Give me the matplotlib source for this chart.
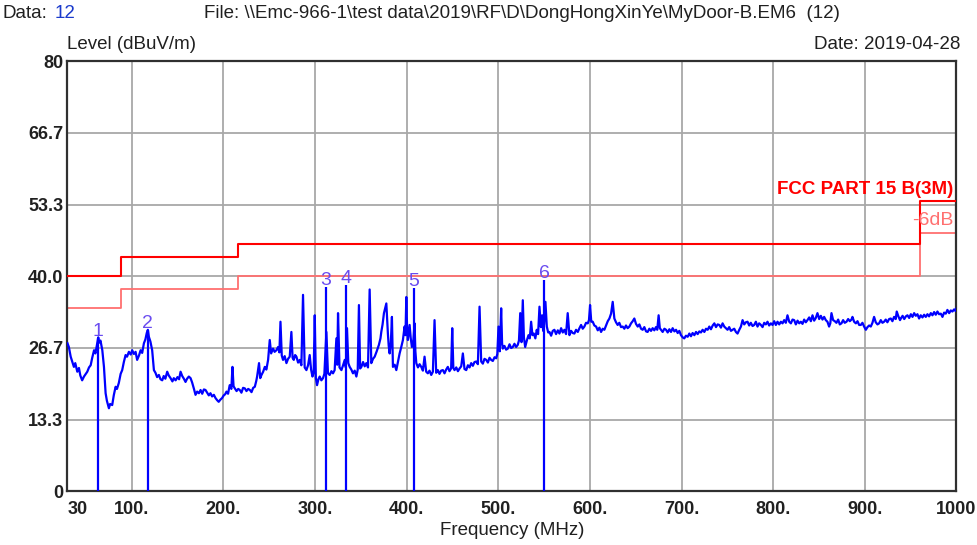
import matplotlib
matplotlib.use("Agg")
import matplotlib.pyplot as plt
import numpy as np

plt.rcParams['font.family'] = ['Liberation Sans', 'DejaVu Sans']

# limit line (FCC Part 15 B, 3 m) and its -6 dB margin
limit_freq = [30, 88, 216, 960, 1000]
limit_level = [40.0, 43.5, 46.0, 54.0, 54.0]
margin_db = 6.0

# peak markers
marker_freq = [63.6, 117.7, 311.7, 334.3, 408.0, 550.0]
marker_level = [28.5, 30.0, 38.0, 38.3, 37.8, 39.3]
marker_names = ['1', '2', '3', '4', '5', '6']

yticks = [0, 13.3, 26.7, 40.0, 53.3, 66.7, 80]
ytick_labels = ['0', '13.3', '26.7', '40.0', '53.3', '66.7', '80']
xticks = [30, 100, 200, 300, 400, 500, 600, 700, 800, 900, 1000]
xtick_labels = ['30', '100.', '200.', '300.', '400.', '500.', '600.', '700.', '800.', '900.', '1000']

trace = [
    (30, 27.5), (31.5, 26.8), (33.5, 25.0), (35, 24.2), (37, 23.1), (38.5, 23.8), (40.7, 22.2),
    (42.5, 22.9), (44, 21.5), (46, 20.6), (48, 21.3), (50, 21.8), (51.6, 22.2), (53.5, 23.0),
    (55.3, 23.4), (57, 24.8), (59, 26.2), (60.5, 25.6), (62.5, 27.5), (63.6, 28.6), (64.5, 27.6),
    (66, 28.0), (68, 26.2), (69.8, 23.1), (71.6, 18.2), (73, 16.8), (75.2, 15.4), (76.5, 16.2),
    (78.8, 16.0), (80.5, 17.8), (82.5, 19.4), (84, 19.0), (86, 20.1), (88, 21.8), (89.7, 22.5),
    (91.5, 24.0), (93.4, 25.3), (95, 25.0), (97, 25.9), (99, 25.4), (100.6, 26.2), (102.5, 25.5),
    (104.3, 25.9), (106, 24.4), (108, 25.2), (109.8, 26.2), (111.5, 25.7), (113.4, 27.5),
    (115, 28.2), (116.5, 29.4), (117.7, 30.0), (118.8, 28.7), (120.5, 27.8), (122.4, 26.2),
    (124.3, 22.5), (126, 22.0), (127.8, 21.2), (129.7, 21.6), (131.5, 20.8), (133.4, 20.6),
    (135, 21.4), (136.8, 20.9), (138.8, 22.2), (140.5, 21.5), (142.5, 21.0), (144.5, 20.4),
    (146, 21.0), (148, 20.6), (150, 21.2), (151.8, 20.8), (153.4, 22.2), (155.2, 21.4),
    (157, 20.9), (158.8, 20.3), (160.5, 20.9), (162.4, 21.3), (164.3, 21.0), (166, 20.2),
    (168, 19.0), (169.7, 17.9), (171.5, 18.5), (173.4, 18.2), (175.2, 18.8), (177, 18.1),
    (178.8, 18.9), (180.6, 18.8), (182.4, 18.3), (184.2, 17.8), (186, 18.2), (187.8, 17.6),
    (189.7, 17.9), (191.5, 17.3), (193.3, 16.9), (195, 16.6), (196.8, 17.0), (198.7, 17.3),
    (200.5, 17.8), (202, 18.0), (203.5, 18.5), (205.2, 18.1), (207, 19.7), (208.8, 19.0),
    (210, 23.1), (211.2, 19.5), (212.6, 19.1), (214.5, 18.6), (216.3, 19.0), (218, 18.8),
    (219.8, 18.3), (221.6, 19.2), (223.5, 19.1), (225.3, 18.6), (227.2, 19.0), (229, 18.8),
    (230.8, 18.4), (232.6, 19.2), (234.4, 19.4), (236, 20.5), (236.9, 21.3), (239, 23.8),
    (240.3, 21.0), (241.7, 21.6), (243.5, 22.2), (245.3, 23.1), (247, 22.6), (248.9, 24.4),
    (250.7, 28.1), (252.2, 25.6), (254.3, 26.5), (256, 25.9), (258, 26.2), (259.8, 26.8),
    (261.2, 25.8), (262.4, 31.5), (263.8, 25.2), (265.2, 24.4), (267, 25.1), (268.9, 23.8),
    (270.7, 24.6), (272.5, 25.0), (274.3, 29.6), (275.6, 24.8), (276.9, 24.4), (278.4, 25.3),
    (279.8, 25.0), (281.6, 23.9), (283.4, 24.4), (285.2, 23.4), (287, 36.5), (288.8, 23.0),
    (290.7, 22.5), (292.5, 23.4), (294.3, 25.3), (295.8, 22.6), (297.3, 21.3), (298.6, 22.0),
    (299.8, 32.7), (301, 21.0), (302.3, 19.7), (303.8, 20.8), (305.2, 21.3), (307, 20.6),
    (308.8, 21.0), (310.3, 21.8), (312.5, 29.6), (314.2, 21.9), (316.1, 21.6), (318, 22.3),
    (319.7, 21.9), (321.5, 22.5), (323.4, 28.4), (324.3, 23.5), (325.2, 33.1), (326.8, 23.0),
    (328.9, 22.5), (330.7, 23.4), (332.5, 24.4), (333.7, 23.0), (335, 30.3), (336.4, 23.8),
    (337.9, 23.1), (339.7, 22.6), (341.5, 21.9), (343.4, 22.4), (345.2, 21.3), (346.7, 22.6),
    (348, 34.6), (349.3, 22.8), (350.7, 23.1), (352.5, 24.0), (354.3, 23.2), (356.1, 23.8),
    (357.9, 23.0), (359.7, 37.5), (361.5, 23.8), (363.4, 24.6), (365.2, 25.0), (367.4, 26.0),
    (369.8, 27.2), (371.5, 28.4), (372.4, 29.6), (373.8, 31.0), (375.3, 33.1), (377.9, 34.9),
    (378.8, 32.0), (379.6, 29.3), (380.5, 27.0), (381.5, 25.6), (382.8, 27.5), (384, 32.4),
    (385.1, 23.1), (387, 23.5), (388.8, 22.5), (390.6, 24.0), (392.4, 25.6), (394.2, 26.8),
    (396, 28.1), (397.8, 30.6), (398.8, 29.0), (399.7, 36.1), (400.6, 30.0), (401.4, 28.1),
    (402.4, 29.5), (403.3, 30.9), (404.5, 28.5), (405.8, 26.8), (407.2, 27.5), (408.7, 31.2),
    (409.6, 26.0), (410.6, 23.8), (412.4, 23.0), (414.2, 23.6), (416, 23.1), (417.8, 22.4),
    (419.6, 25.0), (421.4, 22.2), (423.2, 21.9), (425, 22.4), (426.9, 21.6), (428.7, 22.2),
    (430.5, 31.8), (432.3, 22.0), (434.1, 22.5), (435.9, 21.8), (437.7, 22.4), (439.6, 22.5),
    (441.4, 21.9), (443.2, 22.6), (445, 23.1), (446.8, 22.3), (448.6, 22.8), (449.8, 30.3),
    (451, 22.9), (452.3, 22.5), (454.2, 23.0), (456, 22.3), (457.8, 22.8), (459.6, 23.2),
    (461.4, 25.6), (463.2, 22.7), (465.1, 22.5), (466.9, 23.4), (468.7, 23.0), (470.5, 23.8),
    (472.3, 23.3), (474.1, 24.0), (476, 24.1), (477.8, 23.6), (479.6, 34.3), (481.4, 24.1),
    (483.2, 23.7), (485, 24.6), (486.9, 24.4), (488.7, 23.9), (490.5, 24.8), (492.3, 24.4),
    (494.1, 24.2), (496, 24.9), (497.8, 24.7), (499, 25.5), (500.3, 30.6), (501.7, 26.0),
    (503.2, 34.0), (504.2, 27.5), (505, 26.5), (506.8, 27.0), (508.6, 26.3), (510.5, 26.5),
    (512.3, 27.3), (514.1, 26.6), (515.9, 26.8), (517.7, 27.4), (519.5, 26.8), (521.3, 27.2),
    (522.6, 28.0), (524, 33.1), (525.4, 27.7), (526.8, 35.5), (528, 28.6), (529.4, 26.8),
    (531.2, 28.0), (533, 29.0), (534.4, 28.4), (535.9, 31.5), (537.3, 29.0), (538.8, 29.3),
    (540.5, 28.4), (542, 30.0), (543.5, 29.2), (545, 34.3), (546.5, 30.5), (547.9, 32.7),
    (549, 29.8), (550, 31.0), (551.5, 35.2), (553, 30.6), (554.5, 29.5), (555.9, 29.6),
    (557.7, 28.9), (559.5, 29.8), (561.3, 30.0), (563.1, 29.2), (565, 29.9), (566.8, 29.3),
    (568.6, 30.3), (570.4, 29.5), (572.2, 30.0), (574, 29.2), (575.8, 33.1), (577.7, 29.0),
    (579.5, 29.8), (581.3, 29.4), (583.1, 29.3), (584.9, 30.0), (586.8, 29.6), (588.6, 30.3),
    (590.4, 30.9), (592.2, 30.2), (594, 30.6), (595.8, 31.3), (597.7, 31.2), (599, 31.8),
    (600.2, 34.6), (601.5, 31.5), (603.1, 31.5), (604.9, 30.8), (606.8, 30.6), (608.6, 29.9),
    (610.4, 30.4), (612.2, 29.6), (614, 30.2), (615.8, 30.0), (617.6, 30.8), (619.5, 31.6),
    (621.3, 32.1), (623.1, 33.0), (624.9, 35.2), (626.7, 32.1), (628.5, 31.4), (630.3, 30.9),
    (632.1, 31.3), (634, 30.5), (635.8, 30.6), (637.6, 30.2), (639.4, 30.8), (641.2, 30.3),
    (643.1, 30.6), (644.9, 31.2), (646.7, 31.6), (648.5, 32.1), (650.3, 31.1), (652.2, 30.6),
    (654, 31.0), (655.8, 30.2), (657.6, 30.0), (659.4, 30.5), (661.3, 29.7), (663, 29.6),
    (664.9, 30.2), (666.7, 29.8), (668.5, 30.3), (670.3, 29.9), (672.1, 30.5), (673.5, 30.0),
    (675, 32.7), (676.3, 30.3), (677.6, 30.0), (679.4, 29.6), (681.3, 30.2), (683.1, 30.0),
    (684.9, 29.5), (686.7, 30.1), (688.5, 29.6), (690.3, 30.3), (692.2, 29.7), (694, 30.0),
    (695.8, 29.4), (697.6, 29.8), (699.4, 29.0), (701.2, 28.6), (703, 28.4), (704.8, 28.9),
    (706.7, 28.7), (708.5, 29.3), (710.3, 28.8), (712.1, 29.4), (714, 29.0), (715.8, 29.6),
    (717.6, 29.2), (719.4, 29.7), (721.2, 29.5), (723, 30.0), (724.9, 29.6), (726.7, 30.2),
    (728.5, 30.0), (730.3, 30.6), (732.1, 30.1), (734, 30.8), (735.8, 31.2), (737.6, 30.5),
    (739.4, 31.0), (741.2, 30.9), (743, 30.4), (744.8, 31.2), (746.6, 30.6), (748.4, 30.3),
    (750.2, 30.0), (752, 30.5), (753.9, 29.8), (755.7, 30.0), (757.5, 30.2), (759.3, 29.6),
    (761.1, 29.3), (763, 30.0), (764.8, 30.6), (766.6, 31.8), (768.4, 31.0), (770.2, 31.4),
    (772, 31.5), (773.8, 30.8), (775.6, 31.3), (777.5, 30.7), (779.3, 30.9), (781.1, 31.5),
    (782.9, 30.6), (784.7, 31.2), (786.6, 30.9), (788.4, 30.5), (790.2, 31.3), (792, 31.0),
    (793.8, 31.5), (795.6, 30.8), (797.5, 31.2), (799.3, 30.9), (801.1, 31.6), (802.9, 30.9),
    (804.7, 31.5), (806.6, 31.0), (808.4, 31.5), (810.2, 31.2), (812, 31.8), (813.8, 31.3),
    (815.6, 32.7), (817.5, 31.5), (819.3, 31.2), (821.1, 31.9), (822.9, 31.8), (824.7, 31.0),
    (826.6, 31.7), (828.4, 31.2), (830.2, 31.5), (832, 31.1), (833.8, 31.9), (835.6, 31.4),
    (837.4, 31.8), (839.3, 32.3), (841.1, 31.6), (842.9, 32.7), (844.7, 31.7), (846.5, 32.2),
    (848.3, 33.1), (850.2, 32.0), (852, 32.6), (853.8, 31.9), (855.6, 32.4), (857.4, 31.8),
    (859.2, 31.5), (861, 30.6), (862.3, 31.2), (863.6, 33.1), (865.4, 31.8), (867.2, 31.6),
    (869, 31.3), (870.9, 31.9), (872.7, 31.0), (874.5, 31.2), (876.3, 31.8), (878.1, 31.3),
    (880, 31.5), (881.8, 32.0), (883.6, 31.6), (885.4, 31.9), (886.5, 32.4), (888.3, 31.5),
    (890.2, 31.2), (892, 31.6), (893.8, 30.9), (895.6, 30.9), (897.4, 31.3), (899.2, 30.6),
    (901.1, 30.0), (902.9, 30.5), (904.7, 30.8), (906.5, 30.6), (908.3, 31.3), (910.1, 32.4),
    (911.9, 31.4), (913.8, 31.0), (915.6, 31.2), (917.4, 31.8), (919.2, 31.3), (921, 31.5),
    (922.8, 31.9), (924.6, 31.4), (926.5, 32.0), (928.3, 32.1), (930.1, 31.6), (931.9, 32.4),
    (933.7, 32.0), (934.8, 33.4), (936.6, 32.5), (938.4, 31.8), (939.3, 32.1), (941.2, 32.6),
    (943, 32.0), (944.8, 32.5), (946.5, 32.7), (948.4, 32.2), (950.2, 32.9), (952, 32.4),
    (953.8, 33.1), (955.6, 32.6), (957.4, 32.9), (959.2, 32.1), (961, 32.7), (962.9, 32.3),
    (964.7, 32.8), (966.5, 32.4), (968.3, 32.9), (970.1, 32.5), (972, 33.1), (973.8, 32.7),
    (975.6, 33.3), (977.4, 32.8), (979.2, 33.4), (981, 32.9), (982.9, 33.0), (984.7, 32.4),
    (986.5, 33.2), (988.3, 33.0), (990.1, 33.7), (992, 33.1), (993.8, 33.6), (995.6, 33.4),
    (997.4, 33.8), (999, 33.5), (1000, 34.0),
]

trace_freq = np.array([p[0] for p in trace])
trace_level = np.array([p[1] for p in trace])

fig = plt.figure(figsize=(9.78, 5.45), dpi=100)
ax = fig.add_axes([0.069, 0.099, 0.909, 0.789])

ax.set_xlim(30, 1000)
ax.set_ylim(0, 80)

# grid
for y in yticks[1:-1]:
    ax.axhline(y, color='#a8a8a8', lw=1.3, zorder=1)
for x in xticks[1:-1]:
    ax.axvline(x, color='#a8a8a8', lw=1.3, zorder=1)

# limit and margin lines
ax.step(limit_freq, limit_level, where='post', color='#ff0000', lw=1.5, zorder=3)
ax.step(limit_freq, np.array(limit_level) - margin_db, where='post', color='#ff7070', lw=1.3, zorder=2)
ax.text(997, 54.6, 'FCC PART 15 B(3M)', color='#ff0000', fontsize=13.5, fontweight='bold',
        ha='right', va='bottom', zorder=5)
ax.text(997, 48.7, '-6dB', color='#ff7070', fontsize=14, ha='right', va='bottom', zorder=5)

# trace
ax.plot(trace_freq, trace_level, color='#0000ff', lw=1.6, zorder=4)

# markers
for f, lv, name in zip(marker_freq, marker_level, marker_names):
    ax.vlines(f, 0, lv, color='#0000ff', lw=1.6, zorder=5)
    ax.text(f, lv - 0.4, name, color='#6a4cf0', fontsize=14, ha='center', va='bottom', zorder=6)

ax.set_yticks(yticks)
ax.set_yticklabels(ytick_labels)
ax.set_xticks(xticks)
ax.set_xticklabels(xtick_labels)
ax.tick_params(length=0, labelsize=13, colors='#202020')
ax.tick_params(axis='x', pad=7)
ax.tick_params(axis='y', pad=3)
for lab in ax.get_xticklabels() + ax.get_yticklabels():
    lab.set_fontweight('bold')
ax.get_xticklabels()[0].set_horizontalalignment('left')
for s in ax.spines.values():
    s.set_color('#303030')
    s.set_linewidth(1.6)

ax.set_xlabel('Frequency (MHz)', fontsize=13.5, color='#202020', labelpad=3)

fig.text(0.069, 0.902, 'Level (dBuV/m)', fontsize=13.5, color='#202020', ha='left', va='bottom')
fig.text(0.982, 0.902, 'Date: 2019-04-28', fontsize=13.5, color='#202020', ha='right', va='bottom')
fig.text(0.003, 0.975, 'Data:', fontsize=13.5, color='#202020', ha='left', va='center')
fig.text(0.056, 0.975, '12', fontsize=13.5, color='#1a3acc', ha='left', va='center')
fig.text(0.209, 0.975, 'File: \\\\Emc-966-1\\test data\\2019\\RF\\D\\DongHongXinYe\\MyDoor-B.EM6  (12)',
         fontsize=13.5, color='#202020', ha='left', va='center')

fig.savefig('out.png', dpi=100)
